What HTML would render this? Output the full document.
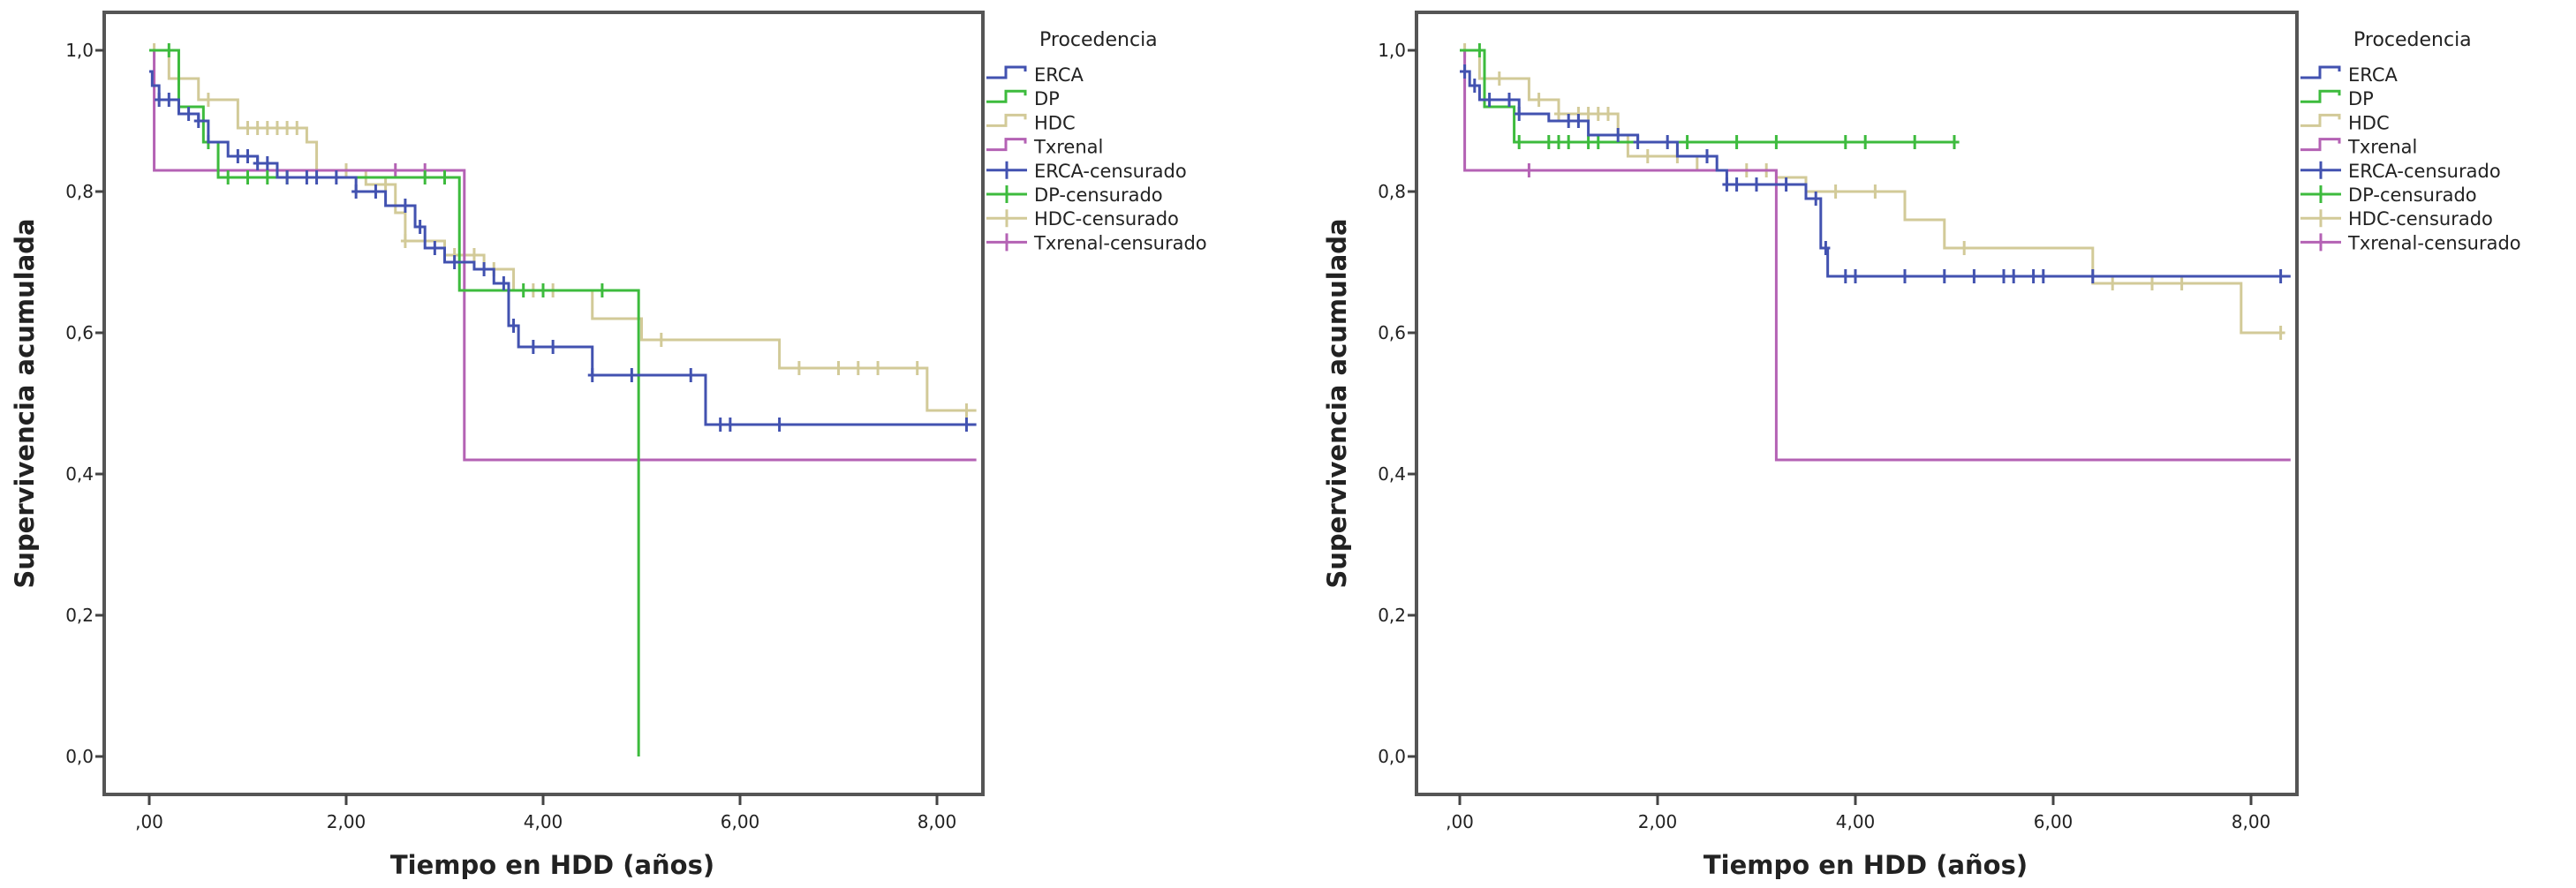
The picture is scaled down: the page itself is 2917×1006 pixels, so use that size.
<!DOCTYPE html>
<html><head><meta charset="utf-8">
<style>
body{margin:0;background:#fff;}
svg{display:block;}
text{font-family:"DejaVu Sans","Liberation Sans",sans-serif;}
</style></head>
<body>
<svg id="chart" width="2917" height="1006" viewBox="0 0 2917 1006" xmlns="http://www.w3.org/2000/svg"></svg>
<script>
// ---- data ----
const xTicks = [0, 2, 4, 6, 8];
const xTickLabels = [",00", "2,00", "4,00", "6,00", "8,00"];
const yTicks = [0, 0.2, 0.4, 0.6, 0.8, 1.0];
const yTickLabels = ["0,0", "0,2", "0,4", "0,6", "0,8", "1,0"];
const seriesNames = ["ERCA", "DP", "HDC", "Txrenal"];
const legendLabels = ["ERCA", "DP", "HDC", "Txrenal", "ERCA-censurado", "DP-censurado", "HDC-censurado", "Txrenal-censurado"];

// Left chart
const L_ercaT = [0, 0.03, 0.1, 0.3, 0.5, 0.6, 0.8, 1.1, 1.3, 2.1, 2.4, 2.7, 2.8, 3.0, 3.3, 3.5, 3.65, 3.75, 4.5, 5.65];
const L_ercaS = [0.97, 0.95, 0.93, 0.91, 0.90, 0.87, 0.85, 0.84, 0.82, 0.80, 0.78, 0.75, 0.72, 0.70, 0.69, 0.67, 0.61, 0.58, 0.54, 0.47];
const L_ercaEnd = 8.4;
const L_ercaC = [0.1, 0.2, 0.4, 0.5, 0.9, 1.0, 1.1, 1.2, 1.4, 1.6, 1.7, 1.9, 2.1, 2.3, 2.6, 2.75, 2.9, 3.1, 3.4, 3.6, 3.7, 3.9, 4.1, 4.5, 4.9, 5.5, 5.8, 5.9, 6.4, 8.3];
const L_dpT = [0, 0.3, 0.55, 0.7, 3.15, 4.97];
const L_dpS = [1.0, 0.92, 0.87, 0.82, 0.66, 0.0];
const L_dpEnd = 4.97;
const L_dpC = [0.2, 0.6, 0.8, 1.0, 1.2, 1.4, 2.8, 3.0, 3.8, 4.0, 4.6];
const L_hdcT = [0, 0.2, 0.5, 0.9, 1.6, 1.7, 2.2, 2.5, 2.6, 3.0, 3.4, 3.7, 4.5, 5.0, 6.4, 7.9];
const L_hdcS = [1.0, 0.96, 0.93, 0.89, 0.87, 0.83, 0.81, 0.77, 0.73, 0.71, 0.69, 0.66, 0.62, 0.59, 0.55, 0.49];
const L_hdcEnd = 8.4;
const L_hdcC = [0.05, 0.3, 0.6, 1.0, 1.1, 1.2, 1.3, 1.4, 1.5, 1.7, 2.0, 2.4, 2.6, 3.1, 3.3, 3.5, 3.9, 4.1, 5.2, 6.6, 7.0, 7.2, 7.4, 7.8, 8.3];
const L_txT = [0, 0.05, 3.2];
const L_txS = [1.0, 0.83, 0.42];
const L_txEnd = 8.4;
const L_txC = [2.5, 2.8];

// Right chart
const R_ercaT = [0, 0.1, 0.2, 0.6, 0.9, 1.3, 1.8, 2.2, 2.6, 2.7, 3.5, 3.65, 3.72];
const R_ercaS = [0.97, 0.95, 0.93, 0.91, 0.90, 0.88, 0.87, 0.85, 0.83, 0.81, 0.79, 0.72, 0.68];
const R_ercaEnd = 8.4;
const R_ercaC = [0.05, 0.15, 0.3, 0.5, 0.6, 1.1, 1.2, 1.6, 1.8, 2.1, 2.5, 2.7, 2.8, 3.0, 3.3, 3.6, 3.7, 3.9, 4.0, 4.5, 4.9, 5.2, 5.5, 5.6, 5.8, 5.9, 6.4, 8.3];
const R_dpT = [0, 0.25, 0.55];
const R_dpS = [1.0, 0.92, 0.87];
const R_dpEnd = 5.05;
const R_dpC = [0.2, 0.6, 0.9, 1.0, 1.1, 1.3, 1.4, 2.3, 2.8, 3.2, 3.9, 4.1, 4.6, 5.0];
const R_hdcT = [0, 0.2, 0.7, 1.0, 1.6, 1.7, 2.4, 3.2, 3.5, 4.5, 4.9, 6.4, 7.9];
const R_hdcS = [1.0, 0.96, 0.93, 0.91, 0.88, 0.85, 0.83, 0.82, 0.80, 0.76, 0.72, 0.67, 0.60];
const R_hdcEnd = 8.3;
const R_hdcC = [0.05, 0.4, 0.8, 1.0, 1.2, 1.3, 1.4, 1.5, 1.9, 2.2, 2.9, 3.1, 3.8, 4.2, 5.1, 6.6, 7.0, 7.3, 8.3];
const R_txT = [0, 0.05, 3.2];
const R_txS = [1.0, 0.83, 0.42];
const R_txEnd = 8.4;
const R_txC = [0.7];

const colors = {"ERCA":"#4252b0","DP":"#3dbb3d","HDC":"#d2ca98","Txrenal":"#b462b4"};

const NS = "http://www.w3.org/2000/svg";
const svg = document.getElementById('chart');
function mk(tag, attrs, parent){
  const e = document.createElementNS(NS, tag);
  for (const k in attrs) e.setAttribute(k, attrs[k]);
  (parent || svg).appendChild(e);
  return e;
}
function survAt(T, S, t){
  let v = S[0];
  for (let i = 0; i < T.length; i++) if (T[i] <= t) v = S[i];
  return v;
}

function drawChart(cfg){
  const g = mk('g', {});
  
  
  const xs = t => cfg.x0 + t * cfg.pxPerYear;
  const ys = v => 857 - v * 800;
  // frame
  const fr = mk('rect', {x: cfg.left, y: 14, width: cfg.right - cfg.left, height: 886, fill: 'none', stroke: '#555', 'stroke-width': 4}, g);
  
  
  // y ticks
  yTicks.forEach((v, i) => {
    const y = ys(v);
    const tk = mk('line', {x1: cfg.left - 10, x2: cfg.left, y1: y, y2: y, stroke: '#444', 'stroke-width': 3}, g);
    
    
    const tl = mk('text', {x: cfg.left - 12, y: y + 7, 'text-anchor': 'end', 'font-size': 20, fill: '#222'}, g);
    tl.textContent = yTickLabels[i];
    
    
  });
  xTicks.forEach((v, i) => {
    const x = xs(v);
    const tk = mk('line', {x1: x, x2: x, y1: 900, y2: 912, stroke: '#444', 'stroke-width': 3}, g);
    
    
    const tl = mk('text', {x: x, y: 938, 'text-anchor': 'middle', 'font-size': 20, fill: '#222'}, g);
    tl.textContent = xTickLabels[i];
    
    
  });
  // axis titles
  const xt = mk('text', {x: (cfg.left + cfg.right) / 2 + 10, y: 990, 'text-anchor': 'middle', 'font-size': 29, 'font-weight': 'bold', fill: '#222'}, g);
  xt.textContent = 'Tiempo en HDD (años)';
  
  
  const yt = mk('text', {x: 0, y: 0, 'text-anchor': 'middle', 'font-size': 29, 'font-weight': 'bold', fill: '#222', transform: `translate(${cfg.left - 80},457) rotate(-90)`}, g);
  yt.textContent = 'Supervivencia acumulada';
  
  
  // series
  const order = ['HDC', 'Txrenal', 'DP', 'ERCA'];
  order.forEach(nm => {
    const s = cfg.series[nm];
    let d = `M${xs(s.T[0])},${ys(s.S[0])}`;
    for (let i = 1; i < s.T.length; i++) {
      d += ` H${xs(s.T[i])} V${ys(s.S[i])}`;
    }
    d += ` H${xs(s.end)}`;
    const p = mk('path', {d: d, fill: 'none', stroke: colors[nm], 'stroke-width': 3}, g);
    
    
    s.C.forEach(t => {
      const cx = xs(t), cy = ys(survAt(s.T, s.S, t));
      const m = mk('path', {d: `M${cx},${cy - 8} V${cy + 8} M${cx - 5},${cy} H${cx + 5}`, stroke: colors[nm], 'stroke-width': 3, fill: 'none'}, g);
      
      
    });
  });
  // legend
  const lg = mk('g', {}, g);
  
  
  const lt = mk('text', {x: cfg.right + 64, y: 52, 'font-size': 22, fill: '#222'}, lg);
  lt.textContent = 'Procedencia';
  
  
  legendLabels.forEach((lab, i) => {
    const y = 84 + i * 27.2;
    const nm = seriesNames[i % 4];
    const c = colors[nm];
    const x0 = cfg.right + 4;
    if (i < 4) {
      const sw = mk('path', {d: `M${x0},${y + 4} H${x0 + 22} V${y - 8} H${x0 + 44} V${y - 3}`, fill: 'none', stroke: c, 'stroke-width': 3}, lg);
      
      
    } else {
      const sw = mk('path', {d: `M${x0},${y} H${x0 + 46} M${x0 + 23},${y - 10} V${y + 10}`, fill: 'none', stroke: c, 'stroke-width': 3}, lg);
      
      
    }
    const tx = mk('text', {x: x0 + 54, y: y + 8, 'font-size': 21, fill: '#222'}, lg);
    tx.textContent = lab;
    
    
  });
}

drawChart({name: 'left-chart', left: 118, right: 1113, x0: 169, pxPerYear: 111.5, series: {
  ERCA: {T: L_ercaT, S: L_ercaS, end: L_ercaEnd, C: L_ercaC},
  DP: {T: L_dpT, S: L_dpS, end: L_dpEnd, C: L_dpC},
  HDC: {T: L_hdcT, S: L_hdcS, end: L_hdcEnd, C: L_hdcC},
  Txrenal: {T: L_txT, S: L_txS, end: L_txEnd, C: L_txC}
}});
drawChart({name: 'right-chart', left: 1604, right: 2601, x0: 1653, pxPerYear: 112, series: {
  ERCA: {T: R_ercaT, S: R_ercaS, end: R_ercaEnd, C: R_ercaC},
  DP: {T: R_dpT, S: R_dpS, end: R_dpEnd, C: R_dpC},
  HDC: {T: R_hdcT, S: R_hdcS, end: R_hdcEnd, C: R_hdcC},
  Txrenal: {T: R_txT, S: R_txS, end: R_txEnd, C: R_txC}
}});
</script>
</body></html>
